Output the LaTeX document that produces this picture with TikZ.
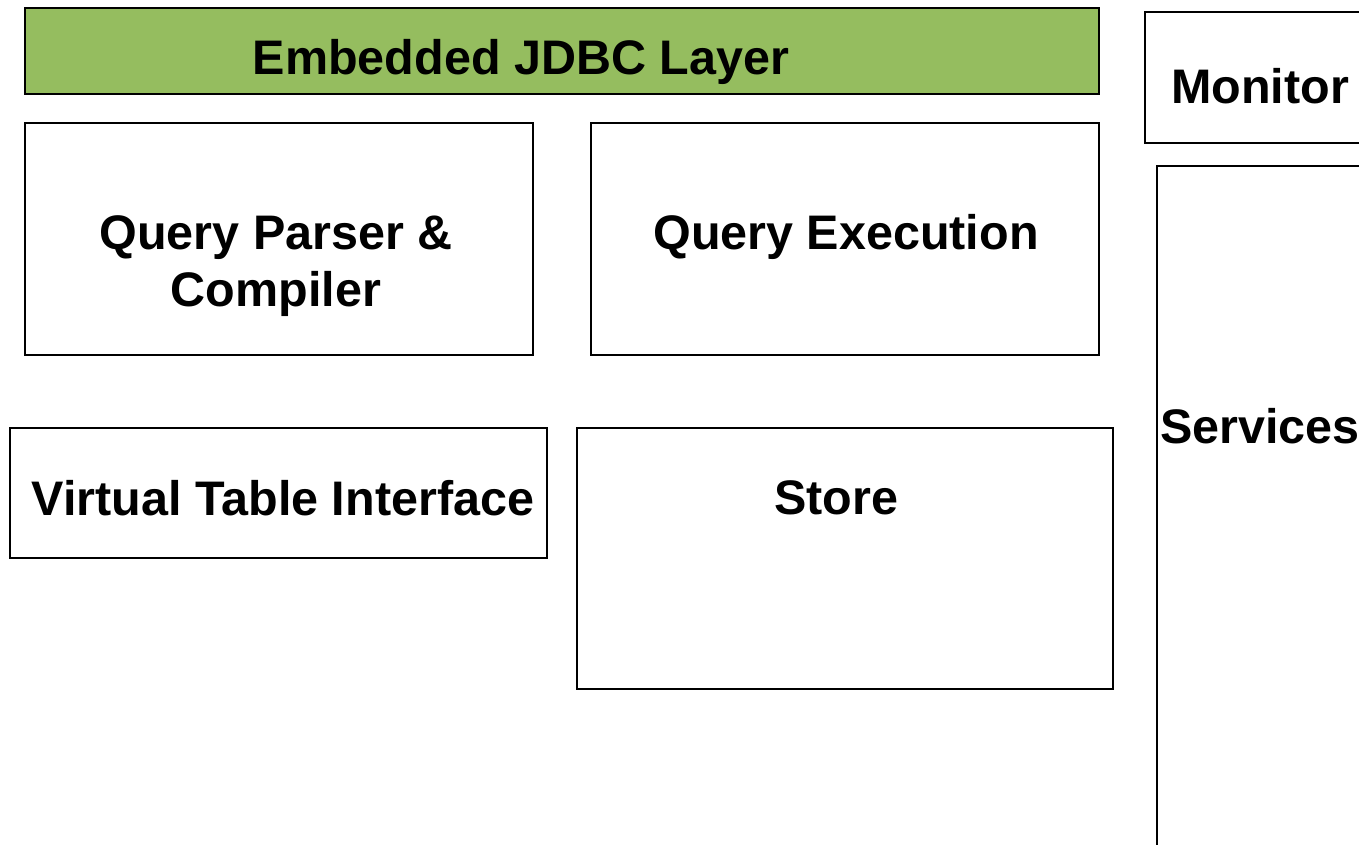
\documentclass[tikz,border=0pt]{standalone}
\usepackage{fontspec}
\setmainfont{Liberation Sans}
\definecolor{layergreen}{HTML}{95BD5F}
\begin{document}
\begin{tikzpicture}[
    x=0.02cm, y=-0.02cm,
    blk/.style={draw=black, line width=1pt},
    lbl/.style={font=\fontsize{27.6}{32.5}\selectfont\bfseries, align=center, inner sep=0pt},
  ]
    %% --- page frame (pixel coordinates, y down) ---
    \useasboundingbox (0,0) rectangle (1359,845);
    \clip (0,0) rectangle (1359,845);

    %% --- top layer ---
    \fill[blk, fill=layergreen] (25,8) rectangle (1099,94);
    \node[lbl] (jdbc) at (521,62) {Embedded JDBC Layer};

    %% --- query row ---
    \draw[blk] (25,123) rectangle (533,355);
    \node[lbl] (parser) at (276,266) {Query Parser \&\\Compiler};

    \draw[blk] (591,123) rectangle (1099,355);
    \node[lbl] (exec) at (846,237) {Query Execution};

    %% --- storage row ---
    \draw[blk] (10,428) rectangle (547,558);
    \node[lbl] (vti) at (283,498) {Virtual Table Interface};

    \draw[blk] (577,428) rectangle (1113,689);
    \node[lbl] (store) at (836,498) {Store};

    %% --- right column (runs past the page edge) ---
    \draw[blk] (1145,12) rectangle (1400,143);
    \node[lbl] (monitor) at (1260,86) {Monitor};

    \draw[blk] (1157,166) rectangle (1400,900);
    \node[lbl] (services) at (1260,426) {Services};

  \end{tikzpicture}
\end{document}
